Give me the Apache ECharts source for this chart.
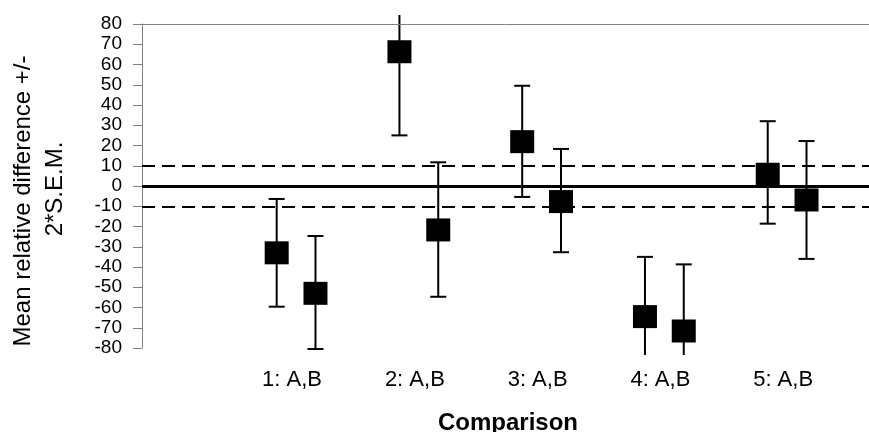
<!DOCTYPE html>
<html><head><meta charset="utf-8">
<script src="https://cdn.jsdelivr.net/npm/echarts@6/dist/echarts.min.js"></script>
<style>html,body{margin:0;padding:0;background:#fff}#c{width:869px;height:432px}</style>
</head><body><div id="c"></div>
<script>
// ---- data ----
const categories = ['1: A,B', '2: A,B', '3: A,B', '4: A,B', '5: A,B'];
const meanA = [-33, 66.3, 21.9, -64.5, 5.8];
const lowA  = [-59.6, 25, -5.4, -95, -18.6];
const highA = [-6.4, 92, 49.5, -35, 32];
const meanB = [-53, -21.7, -7.7, -71.6, -6.9];
const lowB  = [-80.5, -54.7, -32.7, -92, -36];
const highB = [-24.7, 11.7, 18.3, -38.7, 22.2];
const yMin = -80, yMax = 80, yStep = 10;
const zeroLine = 0, bandUpper = 10, bandLower = -10;
const xName = 'Comparison';
const yName1 = 'Mean relative difference +/-';
const yName2 = '2*S.E.M.';

const FONT = '"Liberation Sans", Arial, sans-serif';

function makeRender(offFrac) {
  return function (params, api) {
    const i = api.value(0);
    const p = api.coord([i, api.value(1)]);
    const band = api.size([1, 0])[0];
    const x = p[0] + offFrac * band;
    const cs = params.coordSys;
    const topLim = cs.y - 9, botLim = cs.y + cs.height + 7;
    let yHi = api.coord([i, api.value(3)])[1];
    let yLo = api.coord([i, api.value(2)])[1];
    const capHi = yHi >= topLim, capLo = yLo <= botLim;
    yHi = Math.max(yHi, topLim);
    yLo = Math.min(yLo, botLim);
    const st = { stroke: '#000', lineWidth: 2 };
    const ch = [{ type: 'line', shape: { x1: x, y1: yHi, x2: x, y2: yLo }, style: st }];
    if (capHi) ch.push({ type: 'line', shape: { x1: x - 8, y1: yHi, x2: x + 8, y2: yHi }, style: st });
    if (capLo) ch.push({ type: 'line', shape: { x1: x - 8, y1: yLo, x2: x + 8, y2: yLo }, style: st });
    ch.push({ type: 'rect', shape: { x: x - 12, y: p[1] - 11.5, width: 24, height: 23 }, style: { fill: '#000' } });
    return { type: 'group', children: ch };
  };
}

const chart = echarts.init(document.getElementById('c'), null, { renderer: 'canvas' });
chart.setOption({
  animation: false,
  backgroundColor: '#fff',
  grid: [
    { left: 142, right: 0, top: 24, bottom: 84, outerBoundsMode: 'none' },
    { left: 234.7, right: 20.5, top: 24, bottom: 84, outerBoundsMode: 'none' }
  ],
  xAxis: [
    { type: 'value', gridIndex: 0, min: 0, max: 1,
      axisLine: { show: true, lineStyle: { color: '#808080', width: 1 } },
      axisTick: { show: false }, axisLabel: { show: false }, splitLine: { show: false } },
    { type: 'category', gridIndex: 1, data: categories, boundaryGap: true,
      axisLine: { show: false }, axisTick: { show: false }, splitLine: { show: false },
      axisLabel: { show: true, color: '#000', fontSize: 22, fontFamily: FONT, margin: 21, padding: [0, 8, 0, 0], interval: 0 } }
  ],
  yAxis: [
    { type: 'value', gridIndex: 0, min: yMin, max: yMax, interval: yStep,
      axisLine: { show: true, lineStyle: { color: '#808080', width: 1 } },
      axisTick: { show: true, inside: false, length: 9, lineStyle: { color: '#808080', width: 1 } },
      axisLabel: { show: true, color: '#000', fontSize: 19, fontFamily: FONT, margin: 20 },
      splitLine: { show: false } },
    { type: 'value', gridIndex: 1, min: yMin, max: yMax, interval: yStep, show: false }
  ],
  graphic: [
    { type: 'text', x: 508, y: 423, silent: true,
      style: { text: xName, fontSize: 24, fontWeight: 'bold', fontFamily: FONT, fill: '#000', align: 'center', verticalAlign: 'middle' } },
    { type: 'text', x: 23, y: 201, rotation: Math.PI / 2, silent: true,
      style: { text: yName1, fontSize: 24, fontFamily: FONT, fill: '#000', align: 'center', verticalAlign: 'middle' } },
    { type: 'text', x: 55, y: 189, rotation: Math.PI / 2, silent: true,
      style: { text: yName2, fontSize: 24, fontFamily: FONT, fill: '#000', align: 'center', verticalAlign: 'middle' } }
  ],
  series: [
    { type: 'line', xAxisIndex: 0, yAxisIndex: 0, data: [], silent: true,
      markLine: { silent: true, symbol: 'none', label: { show: false }, animation: false,
        data: [
          { yAxis: yMax, lineStyle: { color: '#808080', width: 1, type: 'solid' } },
          { yAxis: bandUpper, lineStyle: { color: '#000', width: 2, type: [13, 7] } },
          { yAxis: bandLower, lineStyle: { color: '#000', width: 2, type: [13, 7] } },
          { yAxis: zeroLine, lineStyle: { color: '#000', width: 3, type: 'solid' } }
        ] } },
    { type: 'custom', name: 'A', xAxisIndex: 1, yAxisIndex: 1, clip: false,
      renderItem: makeRender(-0.158),
      encode: { x: 0, y: 1 },
      data: categories.map((c, i) => [i, meanA[i], lowA[i], highA[i]]) },
    { type: 'custom', name: 'B', xAxisIndex: 1, yAxisIndex: 1, clip: false,
      renderItem: makeRender(0.158),
      encode: { x: 0, y: 1 },
      data: categories.map((c, i) => [i, meanB[i], lowB[i], highB[i]]) }
  ]
});
</script>
</body></html>
